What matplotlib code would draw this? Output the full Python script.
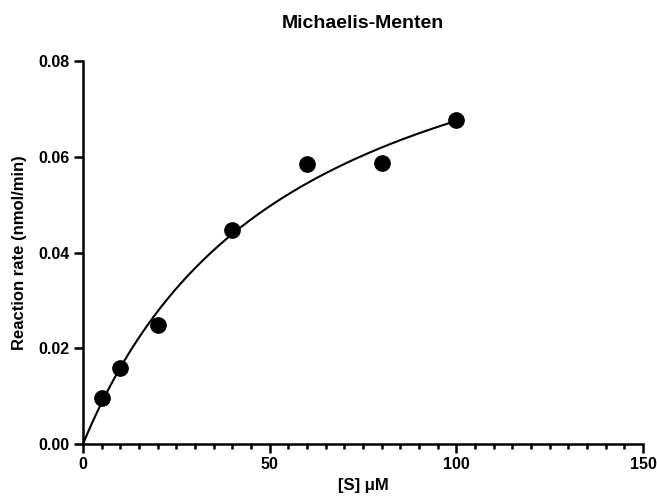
import matplotlib
matplotlib.use('Agg')
import matplotlib.pyplot as plt
import numpy as np

# Substrate concentration and measured rates
substrate = [5, 10, 20, 40, 60, 80, 100]
rate = [0.0096, 0.0159, 0.0249, 0.0447, 0.0585, 0.0587, 0.0677]

# Michaelis-Menten fit: grid over Km, closed-form Vmax
s = np.array(substrate, dtype=float)
v = np.array(rate)
best = None
for km in np.linspace(1, 300, 3000):
    f = s / (km + s)
    vmax = np.sum(v * f) / np.sum(f * f)
    err = np.sum((v - vmax * f) ** 2)
    if best is None or err < best[0]:
        best = (err, vmax, km)
_, vmax, km = best

plt.rcParams['font.family'] = ['Liberation Sans', 'DejaVu Sans']
plt.rcParams['font.weight'] = 'bold'

fig = plt.figure(figsize=(6.57, 5.03), dpi=100)
ax = fig.add_axes([0.1263, 0.1173, 0.8524, 0.7614])

xs = np.linspace(0, 100, 300)
ax.plot(xs, vmax * xs / (km + xs), color='black', lw=1.5, zorder=2)
ax.plot(substrate, rate, 'o', color='black', markersize=11, zorder=3, clip_on=False)

ax.set_xlim(0, 150)
ax.set_ylim(0, 0.08)
ax.set_xticks([0, 50, 100, 150])
ax.set_xticks(np.arange(0, 151, 5), minor=True)
ax.set_yticks([0, 0.02, 0.04, 0.06, 0.08])
ax.set_yticklabels(['0.00', '0.02', '0.04', '0.06', '0.08'])

for side in ['top', 'right']:
    ax.spines[side].set_visible(False)
for side in ['left', 'bottom']:
    ax.spines[side].set_linewidth(1.8)
ax.tick_params(which='major', direction='out', length=6.5, width=1.8, labelsize=11.5, pad=3)
ax.tick_params(which='minor', direction='out', length=3.5, width=1.8)
for lbl in ax.get_xticklabels() + ax.get_yticklabels():
    lbl.set_fontweight('bold')

ax.set_xlabel('[S] μM', fontsize=12, fontweight='bold', labelpad=4)
ax.set_ylabel('Reaction rate (nmol/min)', fontsize=12, fontweight='bold', labelpad=8)
ax.set_title('Michaelis-Menten', fontsize=14, fontweight='bold', pad=24)

fig.savefig('out.png', dpi=100)
